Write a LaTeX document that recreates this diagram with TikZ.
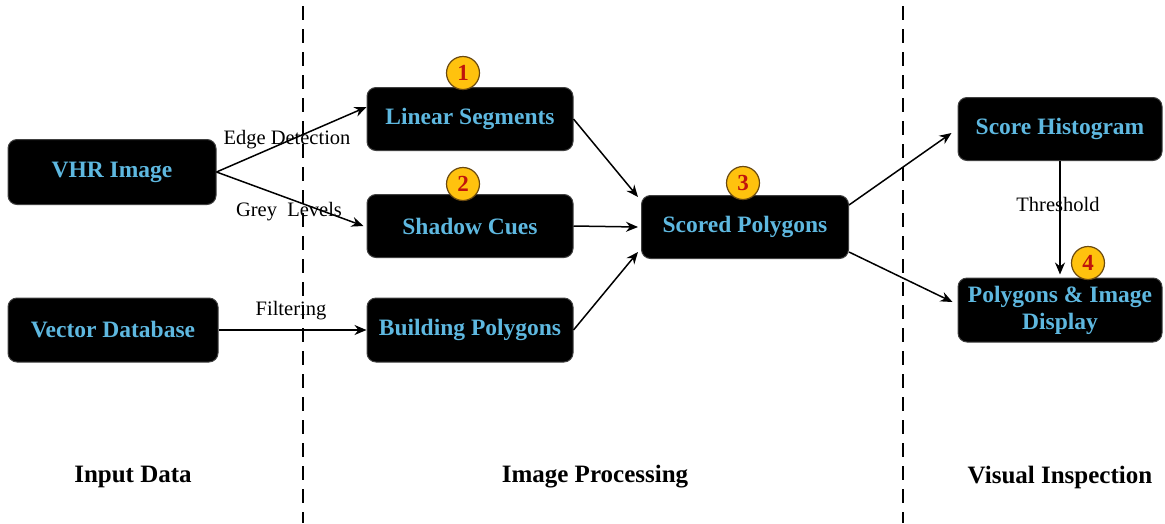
\documentclass[tikz,border=0pt]{standalone}
\usepackage{fontspec}
\setmainfont{Liberation Serif}
\usetikzlibrary{arrows.meta}
\definecolor{boxtext}{HTML}{5EB8E0}
\definecolor{badgefill}{HTML}{FFC20E}
\definecolor{badgeline}{HTML}{6B4A10}
\definecolor{badgenum}{HTML}{C0140C}
\tikzset{
  stage/.style={draw=black!75, fill=black, rounded corners=9pt, line width=1pt,
    minimum width=206pt, minimum height=63pt, align=center, inner sep=2pt,
    text=boxtext, font=\fontsize{23.5}{26}\selectfont\bfseries},
  badge/.style={circle, draw=badgeline, fill=badgefill, line width=1.2pt,
    minimum size=33pt, inner sep=0pt, text=badgenum,
    font=\fontsize{23}{24}\selectfont\bfseries},
  flow/.style={-{Stealth[length=12pt,width=10pt]}, line width=1.5pt},
  edgelabel/.style={font=\fontsize{20.5}{22}\selectfont, inner sep=1pt},
  phase/.style={font=\fontsize{25}{28}\selectfont\bfseries},
  divider/.style={line width=2.8pt, dash pattern=on 14pt off 9pt}
}
\begin{document}
\begin{tikzpicture}[x=1pt,y=-1pt]
  \useasboundingbox (0,0) rectangle (1165,523);

  % phase dividers
  \coordinate (d1t) at (303,6);
  \coordinate (d1b) at (303,523);
  \coordinate (d2t) at (903,6);
  \coordinate (d2b) at (903,523);
  \draw[divider] (d1t) -- (d1b);
  \draw[divider] (d2t) -- (d2b);

  % stages
  \node[stage, minimum width=208pt, minimum height=65pt] (vhr) at (112,172) {VHR Image};
  \node[stage, minimum width=210pt, minimum height=64pt] (vec) at (113,330) {Vector Database};
  \node[stage] (lin) at (470,119) {Linear Segments};
  \node[stage] (sha) at (470,226) {Shadow Cues};
  \node[stage, minimum height=64pt] (bld) at (470,330) {Building Polygons};
  \node[stage, minimum width=207pt] (sco) at (745,227) {Scored Polygons};
  \node[stage, minimum width=204pt] (his) at (1060,129) {Score Histogram};
  \node[stage, minimum width=204pt, minimum height=64pt, font=\fontsize{23.5}{27}\selectfont\bfseries] (dis) at (1060,310) {Polygons \& Image\\Display};

  % connectors
  \draw[flow] (vhr.east) -- ([yshift=12pt]lin.west);
  \draw[flow] (vhr.east) -- ([xshift=-3pt]sha.west);
  \draw[flow] (vec.east) -- (bld.west);
  \draw[flow] (lin.east) -- ([xshift=-3pt,yshift=30pt]sco.west);
  \draw[flow] (sha.east) -- ([xshift=-3pt]sco.west);
  \draw[flow] (bld.east) -- ([xshift=-3pt,yshift=-25pt]sco.west);
  \draw[flow] ([yshift=22pt]sco.east) -- ([xshift=-6pt,yshift=-4pt]his.west);
  \draw[flow] ([yshift=-25pt]sco.east) -- ([xshift=-5pt,yshift=8pt]dis.west);
  \draw[flow] (his.south) -- ([yshift=3pt]dis.north);

  % connector labels
  \node[edgelabel] (l1) at (287,140) {Edge Detection};
  \node[edgelabel] (l2) at (289,212) {Grey\enspace Levels};
  \node[edgelabel] (l3) at (291,311) {Filtering};
  \node[edgelabel] (l4) at (1058,204) {Threshold};

  % step badges
  \node[badge] (b1) at (463,73) {1};
  \node[badge] (b2) at (463,184) {2};
  \node[badge] (b3) at (743,183) {3};
  \node[badge] (b4) at (1088,263) {4};

  % phase titles
  \node[phase] (p1) at (133,477) {Input Data};
  \node[phase] (p2) at (595,477) {Image Processing};
  \node[phase] (p3) at (1060,477) {Visual Inspection};
\end{tikzpicture}
\end{document}
